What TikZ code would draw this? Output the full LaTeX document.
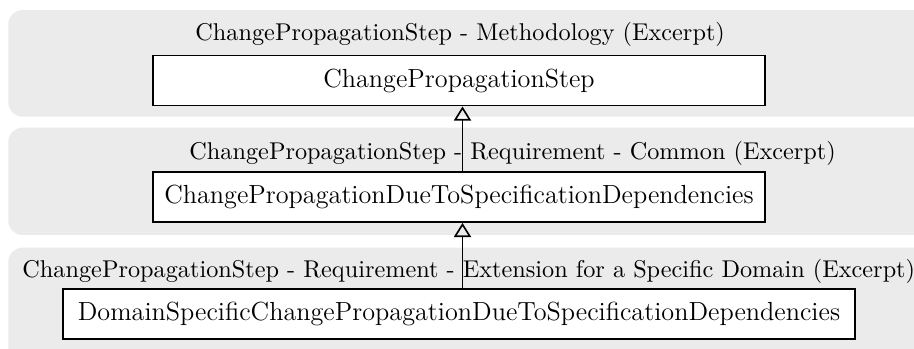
\documentclass[tikz,border=0pt]{standalone}
\usetikzlibrary{arrows.meta,calc}
\definecolor{bandgray}{RGB}{235,235,235}
\tikzset{
  band/.style={fill=bandgray, draw=none, rounded corners=6pt},
  classbox/.style={draw=black, fill=white, line width=0.8pt, minimum height=21.4pt, inner sep=0pt, font=\fontsize{11.2}{13.5}\selectfont},
  bandtitle/.style={inner sep=0pt, font=\fontsize{10.37}{12.5}\selectfont, anchor=base west},
  generalization/.style={line width=0.7pt, -{Triangle[open, width=7.3pt, length=6pt, line width=0.7pt]}}
}
\begin{document}
\begin{tikzpicture}[x=0.4273pt, y=-0.4273pt]
\useasboundingbox (0,0) rectangle (914,349);
\begin{scope}
\clip (0,0) rectangle (914,349);
\fill[band] (8.3,10) rectangle (940,116.7);
\fill[band] (8.3,127.7) rectangle (940,235);
\fill[band] (8.3,247.7) rectangle (940,380);
\end{scope}
\node[bandtitle] (t1) at (195,40.5) {ChangePropagationStep - Methodology (Excerpt)};
\node[bandtitle] (t2) at (189,159.5) {ChangePropagationStep - Requirement - Common (Excerpt)};
\node[bandtitle] (t3) at (22,277.5) {ChangePropagationStep - Requirement - Extension for a Specific Domain (Excerpt)};
\node[classbox, minimum width=261.8pt] (b1) at (459,80.5) {ChangePropagationStep};
\node[classbox, minimum width=261.8pt] (b2) at (459,197) {ChangePropagationDueToSpecificationDependencies};
\node[classbox, minimum width=338.2pt] (b3) at (459,314.3) {DomainSpecificChangePropagationDueToSpecificationDependencies};
\draw[generalization] ($(b2.north)+(3.5,0)$) -- ($(b1.south)+(3.5,0)$);
\draw[generalization] ($(b3.north)+(3.5,0)$) -- ($(b2.south)+(3.5,0)$);
\end{tikzpicture}
\end{document}
